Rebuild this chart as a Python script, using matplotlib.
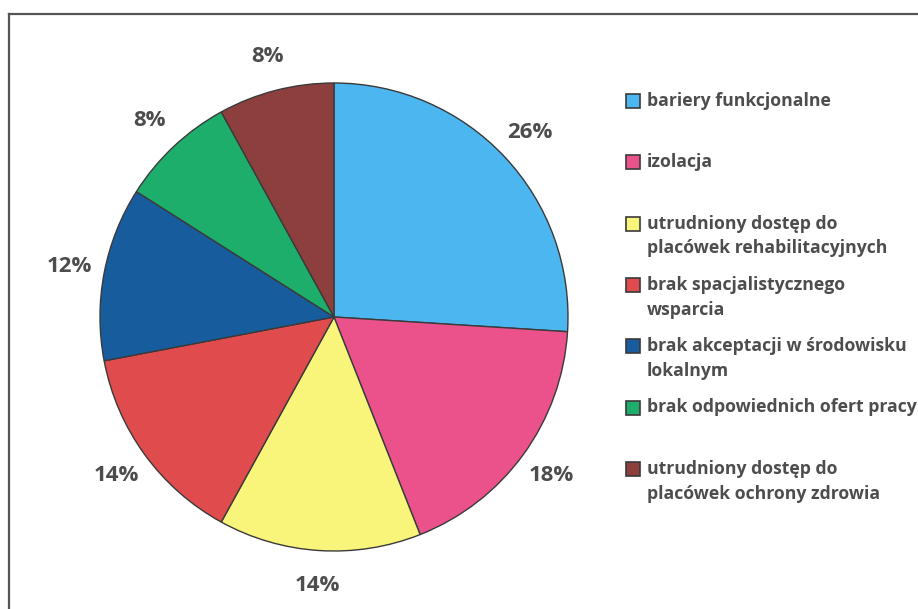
import matplotlib.pyplot as plt
from matplotlib.patches import Rectangle
from matplotlib.lines import Line2D

# udział barier (%)
labels = [
    "bariery funkcjonalne",
    "izolacja",
    "utrudniony dostęp do\nplacówek rehabilitacyjnych",
    "brak spacjalistycznego\nwsparcia",
    "brak akceptacji w środowisku\nlokalnym",
    "brak odpowiednich ofert pracy",
    "utrudniony dostęp do\nplacówek ochrony zdrowia",
]
values = [26, 18, 14, 14, 12, 8, 8]
colors = ["#4bb6ef", "#eb528c", "#f8f57a", "#e04b4d", "#175d9e", "#1eae6c", "#8c3f3c"]

W, H = 918, 609
text_col = "#4d4d4d"
plt.rcParams["font.family"] = ["Open Sans", "DejaVu Sans"]

fig = plt.figure(figsize=(W / 100, H / 100), dpi=100)

# pie axes: centre (334, 317) px, radius 234 px
cx, cy, r = 334, 317, 234
ax = fig.add_axes([(cx - r) / W, (H - cy - r) / H, 2 * r / W, 2 * r / H])
wedges, texts, autotexts = ax.pie(
    values, colors=colors, startangle=90, counterclock=False,
    autopct="%d%%", pctdistance=1.15,
    wedgeprops=dict(edgecolor="#3a3a3a", linewidth=1.0),
    textprops=dict(color=text_col, fontsize=16, fontweight="bold"),
)
ax.set_xlim(-1, 1)
ax.set_ylim(-1, 1)
ax.set_aspect("equal")
ax.axis("off")

# legend, drawn by hand so the marker sits on the first line
lx, tx, y0, step = 626, 647, 101, 61.3
for i, (lab, col) in enumerate(zip(labels, colors)):
    y = y0 + i * step
    fig.add_artist(Rectangle((lx / W, 1 - (y + 7) / H), 14 / W, 14 / H,
                             transform=fig.transFigure, facecolor=col,
                             edgecolor="#3a3a3a", linewidth=1.2))
    fig.text(tx / W, 1 - (y - 9) / H, lab, ha="left", va="top",
             fontsize=12.7, fontweight="bold", color=text_col, linespacing=1.48)

# outer frame (only left and top edges visible)
fig.add_artist(Line2D([9 / W, 9 / W], [0, 1 - 14 / H], transform=fig.transFigure,
                      color="#555555", linewidth=1.6))
fig.add_artist(Line2D([9 / W, 1], [1 - 14 / H, 1 - 14 / H], transform=fig.transFigure,
                      color="#555555", linewidth=1.6))

fig.savefig("out.png", dpi=100)
